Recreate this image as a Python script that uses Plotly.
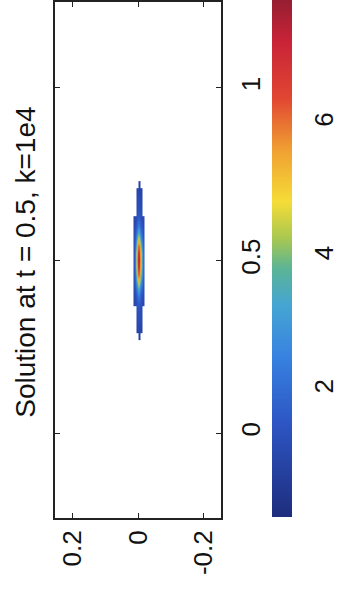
import plotly.graph_objects as go

nan = None
# Original chart axes: x (long axis, shown vertically), y (short axis, shown horizontally)
x_rows = [0.28, 0.30, 0.32, 0.34, 0.36, 0.38, 0.40, 0.42, 0.44, 0.46, 0.48, 0.50,
          0.52, 0.54, 0.56, 0.58, 0.60, 0.62, 0.64, 0.66, 0.68, 0.70, 0.72]
y_cols = [-0.015, -0.0085, -0.002, 0.0045, 0.011]
u_vals = [
    [nan, nan, 0.8, nan, nan],
    [nan, 0.9, 1.1, 0.9, nan],
    [nan, 1.0, 1.3, 1.0, nan],
    [nan, 1.1, 1.4, 1.1, nan],
    [nan, 1.2, 1.5, 1.2, nan],
    [1.0, 1.4, 1.8, 1.4, 1.0],
    [1.1, 1.7, 2.6, 1.7, 1.1],
    [1.2, 2.3, 3.8, 2.3, 1.2],
    [1.3, 3.2, 5.4, 3.2, 1.3],
    [1.4, 4.2, 6.9, 4.2, 1.4],
    [1.5, 4.8, 7.6, 4.8, 1.5],
    [1.5, 5.0, 7.8, 5.0, 1.5],
    [1.5, 4.8, 7.6, 4.8, 1.5],
    [1.4, 4.2, 6.9, 4.2, 1.4],
    [1.3, 3.2, 5.4, 3.2, 1.3],
    [1.2, 2.3, 3.8, 2.3, 1.2],
    [1.1, 1.7, 2.6, 1.7, 1.1],
    [1.0, 1.4, 1.8, 1.4, 1.0],
    [nan, 1.2, 1.5, 1.2, nan],
    [nan, 1.1, 1.4, 1.1, nan],
    [nan, 1.0, 1.3, 1.0, nan],
    [nan, 0.9, 1.1, 0.9, nan],
    [nan, nan, 0.8, nan, nan],
]
x_ticks = [0, 0.5, 1]
x_ticklabels = ["0", "0.5", "1"]
y_ticks = [0.2, 0, -0.2]
y_ticklabels = ["0.2", "0", "-0.2"]
cb_ticks = [2, 4, 6]
cb_ticklabels = ["2", "4", "6"]
title_text = "Solution at t = 0.5, k=1e4"

jet_muted = [
    [0.00, "rgb(30,45,125)"],
    [0.18, "rgb(45,85,195)"],
    [0.31, "rgb(55,130,225)"],
    [0.41, "rgb(70,165,210)"],
    [0.48, "rgb(90,180,150)"],
    [0.54, "rgb(170,200,80)"],
    [0.61, "rgb(245,220,55)"],
    [0.71, "rgb(240,160,50)"],
    [0.81, "rgb(225,70,50)"],
    [0.92, "rgb(200,35,55)"],
    [1.00, "rgb(150,30,50)"],
]

W, H = 339, 591
FONT = "Liberation Sans, Arial, sans-serif"

fig = go.Figure()
fig.add_trace(go.Heatmap(
    x=y_cols, y=x_rows, z=u_vals,
    zsmooth="best", colorscale=jet_muted, zmin=0.1, zmax=7.85,
    colorbar=dict(
        thickness=20, thicknessmode="pixels",
        len=517 / H, lenmode="fraction",
        x=285 / W, xanchor="left", xpad=0,
        y=74 / H, yanchor="bottom", ypad=0,
        tickvals=cb_ticks, ticktext=cb_ticklabels, tickangle=-90,
        ticks="outside", ticklen=10, tickcolor="rgba(0,0,0,0)",
        outlinewidth=0,
        tickfont=dict(family=FONT, size=26, color="#111"),
    ),
    showscale=True,
))

axis_common = dict(
    showline=True, linecolor="#222", linewidth=1.8, mirror="ticks",
    ticks="inside", ticklen=5, tickcolor="#222", tickwidth=1.2,
    showgrid=False, zeroline=False, tickangle=-90,
    tickfont=dict(family=FONT, size=26, color="#111"),
)

fig.update_layout(
    width=W, height=H, autosize=False,
    margin=dict(l=0, r=0, t=0, b=0),
    paper_bgcolor="white", plot_bgcolor="white",
    xaxis=dict(domain=[58 / W, 232 / W], range=[0.253, -0.253],
               tickvals=y_ticks, ticktext=y_ticklabels, **axis_common),
    yaxis=dict(domain=[73 / H, 589 / H], range=[-0.246, 1.249], side="right",
               ticklabelstandoff=6,
               tickvals=x_ticks, ticktext=x_ticklabels, **axis_common),
    annotations=[dict(
        text=title_text, textangle=-90, showarrow=False,
        xref="paper", yref="paper", x=26 / W, y=(H - 262) / H,
        xanchor="center", yanchor="middle",
        font=dict(family=FONT, size=28, color="#111"),
    )],
)

fig.write_html("out.html")
